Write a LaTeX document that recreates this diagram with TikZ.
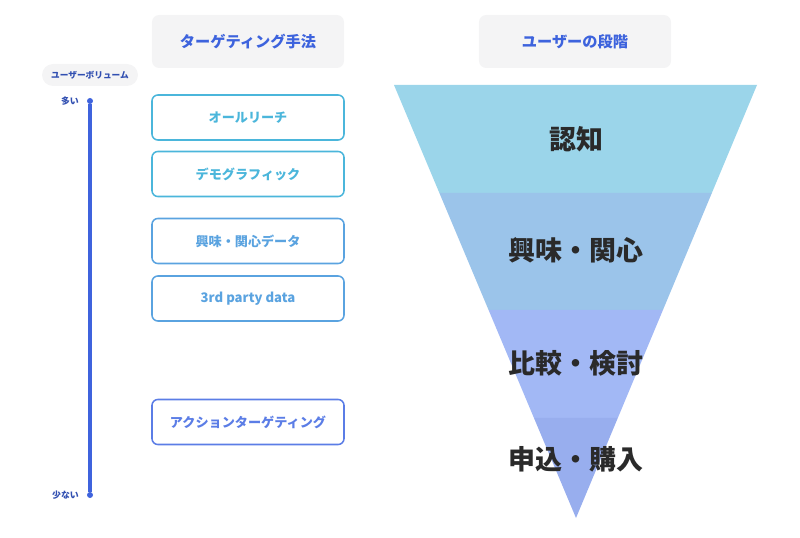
\documentclass[tikz,border=0pt]{standalone}
\usepackage{fontspec}
\setmainfont{Noto Sans CJK JP}
\usepackage{tikz}
\usetikzlibrary{positioning, calc}

\definecolor{headbg}{HTML}{F4F4F5}
\definecolor{headblue}{HTML}{3D63DD}
\definecolor{reachcyan}{HTML}{4BB6DB}
\definecolor{midblue}{HTML}{5AA3E0}
\definecolor{actblue}{HTML}{5B7DE6}
\definecolor{axisblue}{HTML}{3F63DD}
\definecolor{stageA}{HTML}{9BD5EA}
\definecolor{stageB}{HTML}{9BC4EA}
\definecolor{stageC}{HTML}{A2B8F5}
\definecolor{stageD}{HTML}{98AEEE}
\definecolor{stagetext}{HTML}{2A2A2A}

\begin{document}
\begin{tikzpicture}[
  x=0.03cm, y=-0.03cm,
  head/.style={fill=headbg, rounded corners=6pt, minimum width=5.76cm,
    minimum height=1.59cm, font=\fontsize{13}{15}\selectfont\bfseries,
    text=headblue},
  method/.style={draw, line width=1.3pt, rounded corners=5pt, fill=white,
    minimum width=5.76cm, minimum height=1.35cm,
    font=\fontsize{11.2}{13}\selectfont\bfseries},
  pill/.style={fill=headbg, rounded corners=0.33cm, minimum width=2.88cm,
    minimum height=0.66cm, font=\fontsize{7.4}{8}\selectfont\bfseries,
    text=headblue!80!black},
  dot/.style={circle, fill=axisblue, inner sep=0pt, minimum size=0.18cm},
  tick/.style={font=\fontsize{7.6}{8}\selectfont\bfseries, text=headblue!80!black,
    anchor=east},
  stage/.style={font=\fontsize{23}{25}\selectfont\bfseries, text=stagetext},
]
\useasboundingbox (0,0) rectangle (800,538);

% --- headers ---
\node[head] (methodhead) at (248, 41.5) {ターゲティング手法};
\node[head] (stagehead) at (575, 41.5) {ユーザーの段階};

% --- volume axis ---
\node[pill] (volume) at (90, 75) {ユーザーボリューム};
\node[dot] (many) at (90, 101) {};
\node[dot] (few) at (90, 495) {};
\draw[axisblue, line width=2.6pt] (many) -- (few);
\node[tick] (manylabel) at (83, 101) {多い};
\node[tick] (fewlabel) at (83, 495) {少ない};

% --- targeting methods ---
\node[method, draw=reachcyan, text=reachcyan] (allreach) at (248, 117.5) {オールリーチ};
\node[method, draw=reachcyan, text=reachcyan] (demo) at (248, 174) {デモグラフィック};
\node[method, draw=midblue, text=midblue] (interest) at (248, 241) {興味・関心データ};
\node[method, draw=midblue, text=midblue] (thirdparty) at (248, 298.5) {3rd party data};
\node[method, draw=actblue, text=actblue] (action) at (248, 422) {アクションターゲティング};

% --- funnel ---
\coordinate (tl) at (394, 85);
\coordinate (tr) at (757, 85);
\coordinate (apex) at (576, 518);
\coordinate (l1) at ($(tl)!0.2494!(apex)$);
\coordinate (r1) at ($(tr)!0.2494!(apex)$);
\coordinate (l2) at ($(tl)!0.5196!(apex)$);
\coordinate (r2) at ($(tr)!0.5196!(apex)$);
\coordinate (l3) at ($(tl)!0.769!(apex)$);
\coordinate (r3) at ($(tr)!0.769!(apex)$);

\fill[stageA] (tl) -- (tr) -- (r1) -- (l1) -- cycle;
\fill[stageB] (l1) -- (r1) -- (r2) -- (l2) -- cycle;
\fill[stageC] (l2) -- (r2) -- (r3) -- (l3) -- cycle;
\fill[stageD] (l3) -- (r3) -- (apex) -- cycle;

\node[stage] (aware) at (576, 139) {認知};
\node[stage] (interestst) at (576, 250) {興味・関心};
\node[stage] (compare) at (576, 363) {比較・検討};
\node[stage] (purchase) at (576, 459) {申込・購入};

\end{tikzpicture}
\end{document}
